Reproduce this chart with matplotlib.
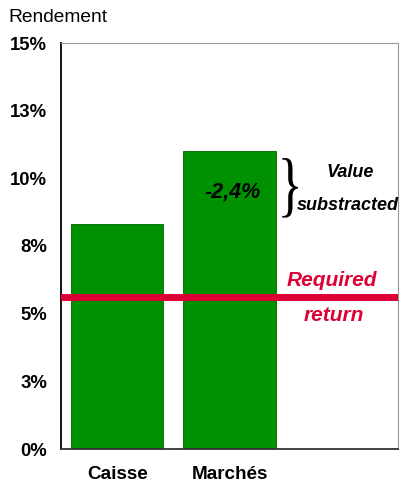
import matplotlib
matplotlib.use("Agg")
from matplotlib import pyplot as plt
from matplotlib.textpath import TextPath
from matplotlib.patches import PathPatch
from matplotlib.font_manager import FontProperties
from matplotlib.transforms import Affine2D

# rendement par placement (%)
categories = ["Caisse", "Marchés", ""]
rendements = [8.3, 11.0, None]
required_return = 5.62
value_subtracted = "-2,4%"
yticks = [0, 2.5, 5, 7.5, 10, 12.5, 15]
ytick_labels = ["0%", "3%", "5%", "8%", "10%", "13%", "15%"]

green = "#009100"
red = "#dc0035"

plt.rcParams["font.family"] = ["Liberation Sans", "DejaVu Sans"]

fig = plt.figure(figsize=(4.01, 4.84), dpi=100)
ax = fig.add_axes([61 / 401, 1 - 449 / 484, 337 / 401, 406 / 484])

xs = [i for i, v in enumerate(rendements) if v is not None]
vals = [v for v in rendements if v is not None]
ax.bar(xs, vals, width=0.82, color=green, edgecolor="#006400", linewidth=0.6, zorder=2)
ax.axhline(required_return, color=red, linewidth=5, zorder=3)

ax.set_xlim(-0.5, 2.5)
ax.set_ylim(0, 15)
ax.set_yticks(yticks)
ax.set_yticklabels(ytick_labels, fontsize=13.3, fontweight="bold")
ax.set_xticks(range(len(categories)))
ax.set_xticklabels(categories, fontsize=13.6, fontweight="bold")
ax.tick_params(axis="both", length=0)
ax.tick_params(axis="y", pad=10)
ax.tick_params(axis="x", pad=12)

ax.spines["left"].set_color("black")
ax.spines["left"].set_linewidth(1.3)
ax.spines["bottom"].set_color("#333333")
ax.spines["bottom"].set_linewidth(1.3)
for side in ["top", "right"]:
    ax.spines[side].set_color("#999999")
    ax.spines[side].set_linewidth(0.8)

fig.text(8 / 401, 1 - 17 / 484, "Rendement", fontsize=13.8, va="center", ha="left")

# annotations
bi = dict(fontweight="bold", fontstyle="italic", ha="center", va="center")
ax.text(1.03, 9.5, value_subtracted, fontsize=15.5, zorder=4, **bi)
ax.text(2.07, 10.2, "Value", fontsize=13, **bi)
ax.text(2.05, 9.0, "substracted", fontsize=13, **bi)
ax.text(1.91, 6.24, "Required", fontsize=15, color=red, **bi)
ax.text(1.93, 4.95, "return", fontsize=15, color=red, **bi)

# tall curly brace, scaled into a box given in data units
brace = TextPath((0, 0), "}", size=1, prop=FontProperties(family="Liberation Serif"))
bb = brace.get_extents()
x0, x1, y0, y1 = 1.47, 1.61, 8.55, 10.75
tr = (Affine2D().translate(-bb.x0, -bb.y0)
      .scale((x1 - x0) / bb.width, (y1 - y0) / bb.height)
      .translate(x0, y0))
ax.add_patch(PathPatch(tr.transform_path(brace), color="black", lw=0, clip_on=False))

fig.savefig("out.png", dpi=100)
